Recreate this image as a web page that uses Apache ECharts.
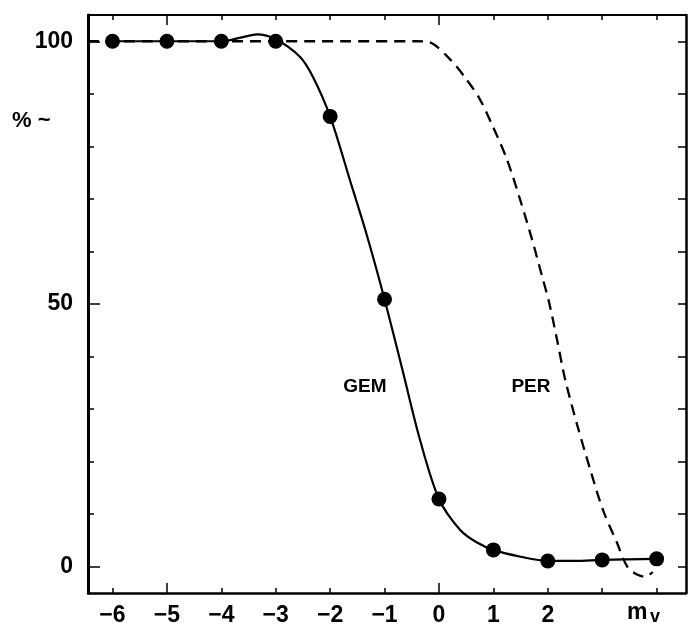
<!DOCTYPE html>
<html>
<head>
<meta charset="utf-8">
<script src="https://cdn.jsdelivr.net/npm/echarts@6/dist/echarts.min.js"></script>
<style>
html,body{margin:0;padding:0;background:#fff;}
#chart{width:698px;height:627px;}
</style>
</head>
<body>
<div id="chart"></div>
<script>
// ---- axis ranges and ticks ----
const X_MIN = -6.45, X_MAX = 4.54;
const Y_MIN = -5, Y_MAX = 105;
const xMinorTicks = [-6, -5, -4, -3, -2, -1, 0, 1, 2, 3, 4];
const xMajorTicks = [-5, 0];
const xTickLabels = [-6, -5, -4, -3, -2, -1, 0, 1, 2];
const yMinorTicks = [0, 10, 20, 30, 40, 50, 60, 70, 80, 90, 100];
const yMajorTicks = [0, 50, 100];
const yTickLabels = [0, 50, 100];

// ---- GEM measured points ----
const gemX = [-6, -5, -4, -3, -2, -1, 0, 1, 2, 3, 4];
const gemY = [100, 100, 100, 100, 85.7, 50.9, 12.9, 3.2, 1.1, 1.3, 1.5];

// ---- GEM fitted curve ----
const gemCurveX = [-6, -5, -4, -3.6, -3.35, -3, -2.56, -2.32, -2, -1.64, -1.32, -1, -0.66, -0.35, 0, 0.39, 0.7, 1, 1.5, 2, 2.5, 3, 4];
const gemCurveY = [100, 100, 100, 100.8, 101.3, 100.4, 97.1, 93.3, 85.7, 73.7, 62.9, 50.9, 37.0, 24.2, 12.9, 7.0, 4.6, 3.2, 1.9, 1.1, 1.1, 1.3, 1.5];

// ---- PER dashed curve ----
const perCurveX = [-6.45, -0.4, -0.17, 0.2, 0.48, 0.75, 0.99, 1.25, 1.49, 1.71, 1.91, 2.02, 2.17, 2.32, 2.54, 2.78, 3.01, 3.27, 3.46, 3.64, 3.79, 3.93];
const perCurveY = [100, 100, 99.8, 96.6, 93.1, 89.0, 83.8, 77.5, 69.9, 62.3, 54.7, 50.5, 43.2, 35.6, 27.0, 18.5, 10.9, 4.6, 0, -1.5, -1.9, -1.0];

// ---- in-plot curve labels ----
const curveNames = ['GEM', 'PER'];
const curveNameX = [-1.36, 1.69];
const curveNameY = [34.3, 34.3];

const zip = (a, b) => a.map((v, i) => [v, b[i]]);
const FONT = 'Liberation Sans';
const minus = v => (v < 0 ? '\u2212' + Math.abs(v) : String(v));

const chart = echarts.init(document.getElementById('chart'), null, {renderer: 'canvas'});

const baseX = {
  type: 'value', min: X_MIN, max: X_MAX, splitLine: {show: false},
  axisLine: {show: false, onZero: false}, axisLabel: {show: false}
};
const baseY = {
  type: 'value', min: Y_MIN, max: Y_MAX, splitLine: {show: false},
  axisLine: {show: false, onZero: false}, axisLabel: {show: false}
};

chart.setOption({
  animation: false,
  backgroundColor: '#fff',
  grid: {left: 88, right: 12, top: 15, bottom: 34, show: false},
  xAxis: [
    Object.assign({}, baseX, {
      position: 'bottom',
      axisLine: {show: true, onZero: false, lineStyle: {color: '#000', width: 2.5}},
      axisTick: {show: true, inside: true, length: 5, customValues: xMinorTicks, lineStyle: {color: '#000', width: 1.5}},
      axisLabel: {show: true, customValues: xTickLabels, formatter: minus, fontFamily: FONT, fontWeight: 'bold', fontSize: 23, color: '#000', margin: 11}
    }),
    Object.assign({}, baseX, {
      position: 'bottom',
      axisTick: {show: true, inside: true, length: 10, customValues: xMajorTicks, lineStyle: {color: '#000', width: 1.5}}
    }),
    Object.assign({}, baseX, {
      position: 'top',
      axisLine: {show: true, onZero: false, lineStyle: {color: '#000', width: 2}},
      axisTick: {show: true, inside: true, length: 5, customValues: xMinorTicks, lineStyle: {color: '#000', width: 1.5}}
    }),
    Object.assign({}, baseX, {
      position: 'top',
      axisTick: {show: true, inside: true, length: 10, customValues: xMajorTicks, lineStyle: {color: '#000', width: 1.5}}
    })
  ],
  yAxis: [
    Object.assign({}, baseY, {
      position: 'left',
      axisLine: {show: true, onZero: false, lineStyle: {color: '#000', width: 3}},
      axisTick: {show: true, inside: true, length: 6, customValues: yMinorTicks, lineStyle: {color: '#000', width: 1.5}},
      axisLabel: {show: true, customValues: yTickLabels, fontFamily: FONT, fontWeight: 'bold', fontSize: 23, color: '#000', margin: 15}
    }),
    Object.assign({}, baseY, {
      position: 'left',
      axisTick: {show: true, inside: true, length: 12, customValues: yMajorTicks, lineStyle: {color: '#000', width: 1.5}}
    }),
    Object.assign({}, baseY, {
      position: 'right',
      axisLine: {show: true, onZero: false, lineStyle: {color: '#000', width: 2.5}},
      axisTick: {show: true, inside: true, length: 8, customValues: yMinorTicks, lineStyle: {color: '#000', width: 1.5}}
    })
  ],
  graphic: [
    {type: 'text', x: 12, y: 121, style: {text: '% ~', fontFamily: FONT, fontWeight: 'bold', fontSize: 22, fill: '#000', textVerticalAlign: 'middle'}},
    {type: 'text', x: 627, y: 613, style: {text: 'm', fontFamily: FONT, fontWeight: 'bold', fontSize: 23, fill: '#000', textVerticalAlign: 'middle'}},
    {type: 'text', x: 650, y: 617, style: {text: 'v', fontFamily: FONT, fontWeight: 'bold', fontSize: 18, fill: '#000', textVerticalAlign: 'middle'}}
  ],
  series: [
    {
      name: 'PER', type: 'line', xAxisIndex: 0, yAxisIndex: 0,
      data: zip(perCurveX, perCurveY), smooth: 0.3, showSymbol: false, symbol: 'none',
      lineStyle: {color: '#000', width: 2.3, type: [11, 7]}, z: 2
    },
    {
      name: 'GEM curve', type: 'line', xAxisIndex: 0, yAxisIndex: 0,
      data: zip(gemCurveX, gemCurveY), smooth: 0.3, showSymbol: false, symbol: 'none',
      lineStyle: {color: '#000', width: 2.2}, z: 3
    },
    {
      name: 'GEM', type: 'scatter', xAxisIndex: 0, yAxisIndex: 0,
      data: zip(gemX, gemY), symbol: 'circle', symbolSize: 15,
      itemStyle: {color: '#000', opacity: 1}, z: 4
    },
    {
      name: 'labels', type: 'scatter', xAxisIndex: 0, yAxisIndex: 0,
      data: curveNames.map((n, i) => ({name: n, value: [curveNameX[i], curveNameY[i]]})),
      symbolSize: 0, silent: true, itemStyle: {opacity: 1},
      label: {show: true, position: 'inside', formatter: '{b}', fontFamily: FONT, fontWeight: 'bold', fontSize: 19, color: '#000', opacity: 1}
    }
  ]
});
</script>
</body>
</html>
